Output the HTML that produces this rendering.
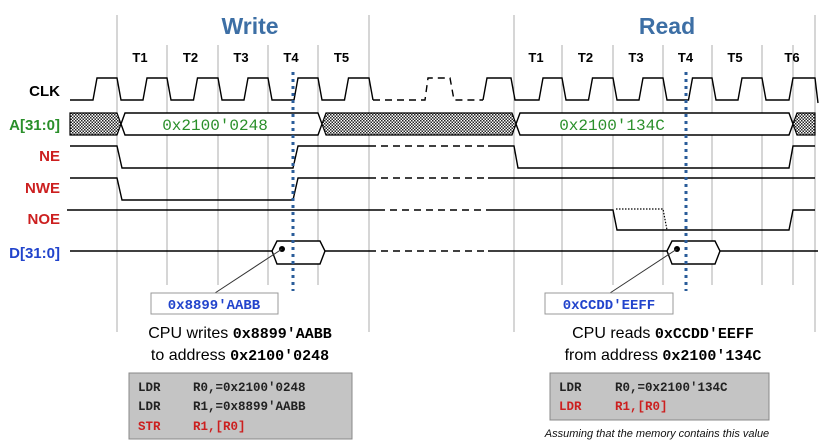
<!DOCTYPE html>
<html><head><meta charset="utf-8"><style>
html,body{margin:0;padding:0;background:#fff;}
svg{display:block;font-family:"Liberation Sans",sans-serif;}
.lbl{font-weight:bold;font-size:15px;text-anchor:end;}
.t{font-weight:bold;font-size:13px;text-anchor:middle;}
.mono{font-family:"Liberation Mono",monospace;}
.w{fill:none;stroke:#000;stroke-width:1.4;}
.d{fill:none;stroke:#000;stroke-width:1.4;stroke-dasharray:7,5;}
.g{stroke:#999;stroke-width:0.8;}
</style></head><body>
<svg id="tim" width="829" height="441" viewBox="0 0 829 441" xmlns="http://www.w3.org/2000/svg">
<defs>
<pattern id="hatch" width="3" height="3" patternUnits="userSpaceOnUse">
<rect width="3" height="3" fill="#fff"/><rect width="1.5" height="1.5" fill="#222"/><rect x="1.5" y="1.5" width="1.5" height="1.5" fill="#222"/>
</pattern>
</defs>
<g id="grid"></g>

<text x="250" y="34" font-size="23" font-weight="bold" fill="#3d6fa5" text-anchor="middle">Write</text>
<text x="667" y="34" font-size="23" font-weight="bold" fill="#3d6fa5" text-anchor="middle">Read</text>
<g id="tlabels"></g>

<text class="lbl" x="60" y="96" fill="#000">CLK</text>
<text class="lbl" x="60" y="130" fill="#2a8f2a">A[31:0]</text>
<text class="lbl" x="60" y="161" fill="#cc1f1f">NE</text>
<text class="lbl" x="60" y="193" fill="#cc1f1f">NWE</text>
<text class="lbl" x="60" y="224" fill="#cc1f1f">NOE</text>
<text class="lbl" x="60" y="258" fill="#2244cc">D[31:0]</text>

<g id="clk"></g>

<g>
<polygon points="70,113 117,113 121,124 117,135 70,135" fill="url(#hatch)" stroke="#000" stroke-width="1.2"/>
<polygon points="121,124 125,113 318,113 322,124 318,135 125,135" fill="#fff" stroke="#000" stroke-width="1.4"/>
<polygon points="322,124 326,113 512,113 516,124 512,135 326,135" fill="url(#hatch)" stroke="#000" stroke-width="1.2"/>
<polygon points="516,124 520,113 789,113 793,124 789,135 520,135" fill="#fff" stroke="#000" stroke-width="1.4"/>
<polygon points="793,124 797,113 815,113 815,135 797,135" fill="url(#hatch)" stroke="#000" stroke-width="1.2"/>
<text class="mono" x="215" y="130" font-size="16" fill="#2a8f2a" text-anchor="middle">0x2100'0248</text>
<text class="mono" x="612" y="130" font-size="16" fill="#2a8f2a" text-anchor="middle">0x2100'134C</text>
</g>

<g>
<path class="w" d="M70,146 L117,146 L122,168 L293,168 L298,146 L369,146"/>
<path class="d" d="M369,146 L488,146"/>
<path class="w" d="M488,146 L514,146 L518,168 L789,168 L793,146 L815,146"/>
</g>
<g>
<path class="w" d="M70,178 L117,178 L122,200 L293,200 L298,178 L369,178"/>
<path class="d" d="M369,178 L488,178"/>
<path class="w" d="M488,178 L815,178"/>
</g>
<g>
<path class="w" d="M67,210 L378,210"/>
<path class="d" d="M378,210 L488,210"/>
<path class="w" d="M488,210 L613,210 L617,230 L789,230 L793,210 L815,210"/>
<path d="M616,209 L663,209 L667,230" fill="none" stroke="#000" stroke-width="1.2" stroke-dasharray="1.5,1.5"/>
</g>
<g>
<path class="w" d="M70,251 L272,251"/>
<polygon points="272,251 277,241 320,241 325,251 320,264 277,264" fill="#fff" stroke="#000" stroke-width="1.4"/>
<path class="w" d="M325,251 L369,251"/>
<path class="d" d="M369,251 L488,251"/>
<path class="w" d="M488,251 L667,251"/>
<polygon points="667,251 672,241 715,241 720,251 715,264 672,264" fill="#fff" stroke="#000" stroke-width="1.4"/>
<path class="w" d="M720,251 L818,251"/>
<circle cx="282" cy="249" r="3" fill="#000"/>
<circle cx="677" cy="249" r="3" fill="#000"/>
<line x1="282" y1="249" x2="215" y2="293" stroke="#333" stroke-width="1"/>
<line x1="677" y1="249" x2="610" y2="293" stroke="#333" stroke-width="1"/>
</g>

<line x1="293" y1="72" x2="293" y2="291" stroke="#2a5c9a" stroke-width="3" stroke-dasharray="3,4"/>
<line x1="686" y1="72" x2="686" y2="291" stroke="#2a5c9a" stroke-width="3" stroke-dasharray="3,4"/>

<g>
<rect x="151" y="293" width="127" height="21" fill="#fff" stroke="#999" stroke-width="1"/>
<text class="mono" x="214" y="309" font-size="14" font-weight="bold" fill="#2244cc" text-anchor="middle">0x8899'AABB</text>
</g>
<g>
<rect x="545" y="293" width="128" height="21" fill="#fff" stroke="#999" stroke-width="1"/>
<text class="mono" x="609" y="309" font-size="14" font-weight="bold" fill="#2244cc" text-anchor="middle">0xCCDD'EEFF</text>
</g>

<text x="240" y="338" font-size="16" text-anchor="middle">CPU writes <tspan class="mono" font-weight="bold" font-size="15">0x8899'AABB</tspan></text>
<text x="240" y="360" font-size="16" text-anchor="middle">to address <tspan class="mono" font-weight="bold" font-size="15">0x2100'0248</tspan></text>
<text x="663" y="338" font-size="16" text-anchor="middle">CPU reads <tspan class="mono" font-weight="bold" font-size="15">0xCCDD'EEFF</tspan></text>
<text x="663" y="360" font-size="16" text-anchor="middle">from address <tspan class="mono" font-weight="bold" font-size="15">0x2100'134C</tspan></text>

<g class="mono" font-size="12.5" font-weight="bold">
<rect x="129" y="373" width="223" height="66" fill="#c4c4c4" stroke="#888" stroke-width="1"/>
<text x="138" y="391" fill="#222">LDR</text><text x="193" y="391" fill="#222">R0,=0x2100'0248</text>
<text x="138" y="410" fill="#222">LDR</text><text x="193" y="410" fill="#222">R1,=0x8899'AABB</text>
<text x="138" y="430" fill="#cc1f1f">STR</text><text x="193" y="430" fill="#cc1f1f">R1,[R0]</text>
</g>
<g class="mono" font-size="12.5" font-weight="bold">
<rect x="550" y="373" width="219" height="47" fill="#c4c4c4" stroke="#888" stroke-width="1"/>
<text x="559" y="391" fill="#222">LDR</text><text x="615" y="391" fill="#222">R0,=0x2100'134C</text>
<text x="559" y="410" fill="#cc1f1f">LDR</text><text x="615" y="410" fill="#cc1f1f">R1,[R0]</text>
</g>
<text x="657" y="437" font-size="11" font-style="italic" text-anchor="middle" fill="#111">Assuming that the memory contains this value</text>
</svg>
<script>
// cycle boundaries (clock falling edges)
const writeEdges = [117,167,218,268,318,369];
const readEdges = [514,562,613,663,712,762,815];
const writeCycleLabels = ["T1","T2","T3","T4","T5"];
const readCycleLabels = ["T1","T2","T3","T4","T5","T6"];
const NS="http://www.w3.org/2000/svg";
const grid=document.getElementById('grid');
function gl(x,y1,y2){const l=document.createElementNS(NS,'line');
l.setAttribute('x1',x);l.setAttribute('x2',x);l.setAttribute('y1',y1);l.setAttribute('y2',y2);l.setAttribute('class','g');


grid.appendChild(l);}
[writeEdges,readEdges].forEach(ed=>ed.forEach((x,i)=>{const outer=(i===0||i===ed.length-1);gl(x,outer?15:45,outer?332:285);}));
gl(793,45,285);
const tl=document.getElementById('tlabels');
function lab(txt,x){const t=document.createElementNS(NS,'text');t.setAttribute('x',x);t.setAttribute('y',62);t.setAttribute('class','t');t.textContent=txt;


tl.appendChild(t);}
writeCycleLabels.forEach((s,i)=>lab(s,(writeEdges[i]+writeEdges[i+1])/2-2));
readCycleLabels.forEach((s,i)=>{if(i<5)lab(s,(readEdges[i]+readEdges[i+1])/2-2);else lab(s,792);});
// clock
const clk=document.getElementById('clk');
function path(d,cls){const p=document.createElementNS(NS,'path');p.setAttribute('d',d);p.setAttribute('class',cls);


clk.appendChild(p);}
const HI=78,LO=100;
let d='M70,'+LO;
writeEdges.forEach((g,i)=>{const r=i===0?g-24:(g+writeEdges[i-1])/2+1;d+=` L${r},${LO} L${r+4},${HI} L${g},${HI} L${g+4},${LO}`;});
path(d,'w');
path(`M373,${LO} L425,${LO} L428,${HI} L450,${HI} L454,${LO} L483,${LO}`,'d');
d=`M483,${LO} L487,${HI} L511,${HI} L515,${LO}`;
const rg=[562,613,663,712,762];
let prev=514;
rg.forEach(g=>{const r=(g+prev)/2+1;d+=` L${r},${LO} L${r+4},${HI} L${g},${HI} L${g+4},${LO}`;prev=g;});
d+=` L789,${LO} L793,${HI} L815,${HI} L818,${LO+3}`;
path(d,'w');
</script>
</body></html>
